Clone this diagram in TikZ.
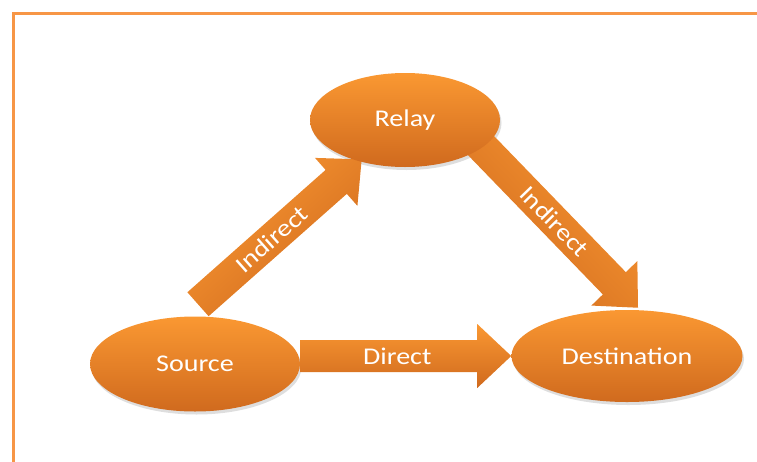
\documentclass[tikz,border=0pt]{standalone}
\usepackage{fontspec}
\setmainfont{Carlito}
\usetikzlibrary{shapes.geometric,calc,backgrounds}
\definecolor{ortop}{RGB}{250,152,50}
\definecolor{orbot}{RGB}{208,106,30}
\definecolor{framecol}{RGB}{247,150,70}
\tikzset{
  blob/.style={ellipse, inner sep=0pt, top color=ortop, bottom color=orbot, draw=none},
  lbl/.style={text=white, font=\fontsize{18}{20}\selectfont, inner sep=0pt},
  shadowfill/.style={fill=black, opacity=0.13},
}
\newcommand\blockarrow[3]{%
  \coordinate (hb#1) at ($(#2)!25.5pt!(#1)$);
  \shade[top color=ortop, bottom color=orbot, shading angle=#3]
    ($(#1)!12pt!90:(#2)$) -- ($(hb#1)!12pt!90:(#2)$) -- ($(hb#1)!24pt!90:(#2)$)
    -- (#2) -- ($(hb#1)!24pt!-90:(#2)$) -- ($(hb#1)!12pt!-90:(#2)$)
    -- ($(#1)!12pt!-90:(#2)$) -- cycle;
}
\begin{document}
\begin{tikzpicture}[x=0.75pt,y=-0.75pt]
\useasboundingbox (0,0) rectangle (757,461);
\clip (0,0) rectangle (757,461);
\draw[framecol, line width=2.4pt] (13.5,480) -- (13.5,13.5) -- (780,13.5);

\node[blob, minimum width=142.5pt, minimum height=70.5pt] (relay) at (405,120) {};
\node[blob, minimum width=157.5pt, minimum height=71.25pt] (src) at (195,364) {};
\node[blob, minimum width=173.25pt, minimum height=69pt] (dst) at (627,356) {};

\node[lbl] (trelay) at (relay.center) {\scalebox{1.17}[1]{Relay}};
\node[lbl] (tsrc) at (src.center) {\scalebox{1.17}[1]{Source}};
\node[lbl] (tdst) at (dst.center) {\scalebox{1.17}[1]{Destination}};

\coordinate (t0) at (src.east |- dst.west);
\coordinate (p0) at (dst.west);
\coordinate (t1) at ($(src.north)+(3,-12)$);
\coordinate (p1) at ($(relay.225)+(-1,-3)$);
\coordinate (t2) at ($(relay.center)+(59,8)$);
\coordinate (p2) at ($(dst.north)+(11,-2)$);

\begin{pgfonlayer}{background}
  \fill[shadowfill] ($(relay.center)+(1.5,3)$) ellipse [x radius=95, y radius=47];
  \fill[shadowfill] ($(src.center)+(1.5,3)$) ellipse [x radius=105, y radius=47.5];
  \fill[shadowfill] ($(dst.center)+(1.5,3)$) ellipse [x radius=115.5, y radius=46];
  \blockarrow{t0}{p0}{0}
  \blockarrow{t1}{p1}{41.7}
  \blockarrow{t2}{p2}{-46}
\end{pgfonlayer}

\path (t0) -- (p0) node[lbl, pos=0.46, sloped] (ldirect) {\scalebox{1.17}[1]{Direct}};
\path (t1) -- (p1) node[lbl, pos=0.45, sloped] (lind1) {\scalebox{1.17}[1]{Indirect}};
\path (t2) -- (p2) node[lbl, pos=0.52, sloped] (lind2) {\scalebox{1.17}[1]{Indirect}};
\end{tikzpicture}
\end{document}
